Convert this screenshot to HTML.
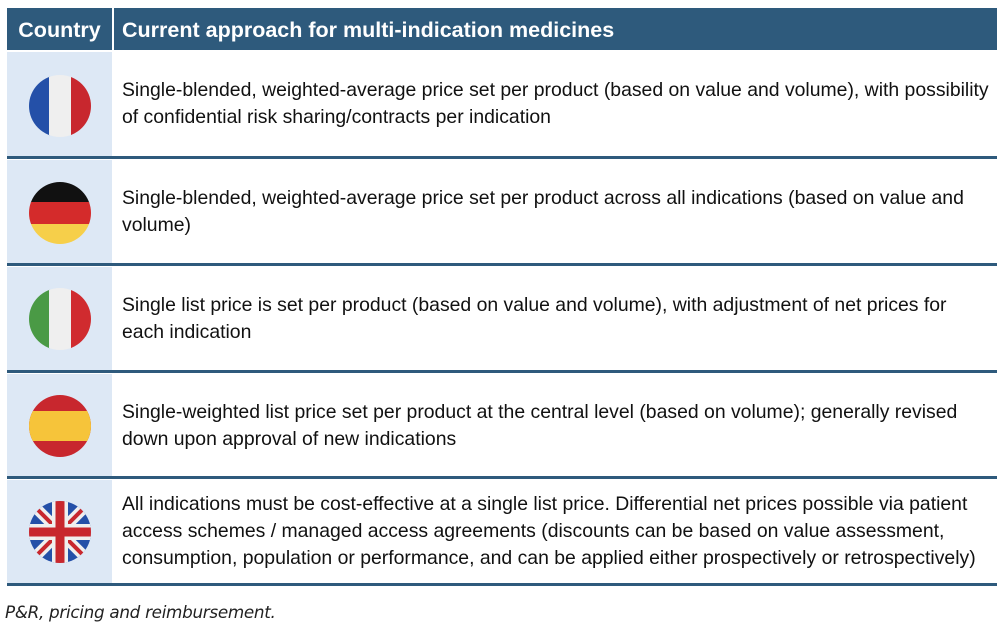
<!DOCTYPE html>
<html><head><meta charset="utf-8"><style>
body{margin:0;width:1008px;height:638px;background:#fff;position:relative;font-family:"Liberation Sans",Arial,sans-serif;overflow:hidden}
.h{position:absolute;top:8px;height:42px;background:#2e5a7c;color:#fff;font-weight:bold;font-size:21.5px;line-height:44px;white-space:nowrap}
.c{position:absolute;left:7px;width:105px;background:#dde8f5}
.sep{position:absolute;left:7px;width:990px;height:3px;background:#2e5a7c}
.t{position:absolute;left:122px;font-size:19.4px;line-height:27px;color:#111;white-space:nowrap;display:flex;align-items:center}
svg{position:absolute;left:28px}
.fn{position:absolute;left:5px;top:602px;font-family:"DejaVu Sans",sans-serif;font-style:italic;font-size:16.8px;color:#222;letter-spacing:-0.3px}
</style></head><body>
<div class="h" style="left:7px;width:105px;text-align:center">Country</div>
<div class="h" style="left:114px;width:883px;padding-left:8px;box-sizing:border-box">Current approach for multi-indication medicines</div>

<div class="c" style="top:52px;height:104px"></div>
<div class="c" style="top:160px;height:104px"></div>
<div class="c" style="top:267px;height:103px"></div>
<div class="c" style="top:374px;height:103px"></div>
<div class="c" style="top:480px;height:103px"></div>

<div class="sep" style="top:156px"></div>
<div class="sep" style="top:263px"></div>
<div class="sep" style="top:370px"></div>
<div class="sep" style="top:476px"></div>
<div class="sep" style="top:583px"></div>

<svg style="top:74px" width="64" height="64" viewBox="0 0 64 64"><defs><clipPath id="a"><circle cx="32" cy="32" r="31"/></clipPath></defs><g clip-path="url(#a)"><rect width="22" height="64" fill="#2450a8"/><rect x="21" width="22" height="64" fill="#efefef"/><rect x="43" width="22" height="64" fill="#c8272e"/></g></svg>
<svg style="top:181px" width="64" height="64" viewBox="0 0 64 64"><defs><clipPath id="b"><circle cx="32" cy="32" r="31"/></clipPath></defs><g clip-path="url(#b)"><rect width="64" height="22" fill="#111"/><rect y="21" width="64" height="22" fill="#d42b2b"/><rect y="43" width="64" height="22" fill="#f6cf4a"/></g></svg>
<svg style="top:287px" width="64" height="64" viewBox="0 0 64 64"><defs><clipPath id="c"><circle cx="32" cy="32" r="31"/></clipPath></defs><g clip-path="url(#c)"><rect width="22" height="64" fill="#4a9a45"/><rect x="21" width="22" height="64" fill="#efefef"/><rect x="43" width="22" height="64" fill="#d02b2f"/></g></svg>
<svg style="top:394px" width="64" height="64" viewBox="0 0 64 64"><defs><clipPath id="d"><circle cx="32" cy="32" r="31"/></clipPath></defs><g clip-path="url(#d)"><rect width="64" height="64" fill="#c8272e"/><rect y="17" width="64" height="30" fill="#f6c43a"/></g></svg>
<svg style="top:500px" width="64" height="64" viewBox="0 0 64 64"><defs><clipPath id="e"><circle cx="32" cy="32" r="31"/></clipPath></defs><g clip-path="url(#e)"><rect width="64" height="64" fill="#2450a8"/><path d="M0 0L64 64M64 0L0 64" stroke="#efefef" stroke-width="11"/><path d="M0 0L64 64M64 0L0 64" stroke="#c8272e" stroke-width="4"/><path d="M32 0V64M0 32H64" stroke="#efefef" stroke-width="16"/><path d="M32 0V64M0 32H64" stroke="#c8272e" stroke-width="9"/></g></svg>

<div class="t" style="top:52px;height:104px"><div>Single-blended, weighted-average price set per product (based on value and volume), with possibility<br>of confidential risk sharing/contracts per indication</div></div>
<div class="t" style="top:160px;height:104px"><div>Single-blended, weighted-average price set per product across all indications (based on value and<br>volume)</div></div>
<div class="t" style="top:267px;height:103px"><div>Single list price is set per product (based on value and volume), with adjustment of net prices for<br>each indication</div></div>
<div class="t" style="top:374px;height:103px"><div>Single-weighted list price set per product at the central level (based on volume); generally revised<br>down upon approval of new indications</div></div>
<div class="t" style="top:480px;height:103px"><div>All indications must be cost-effective at a single list price. Differential net prices possible via patient<br>access schemes / managed access agreements (discounts can be based on value assessment,<br>consumption, population or performance, and can be applied either prospectively or retrospectively)</div></div>

<div class="fn">P&amp;R, pricing and reimbursement.</div>
</body></html>
